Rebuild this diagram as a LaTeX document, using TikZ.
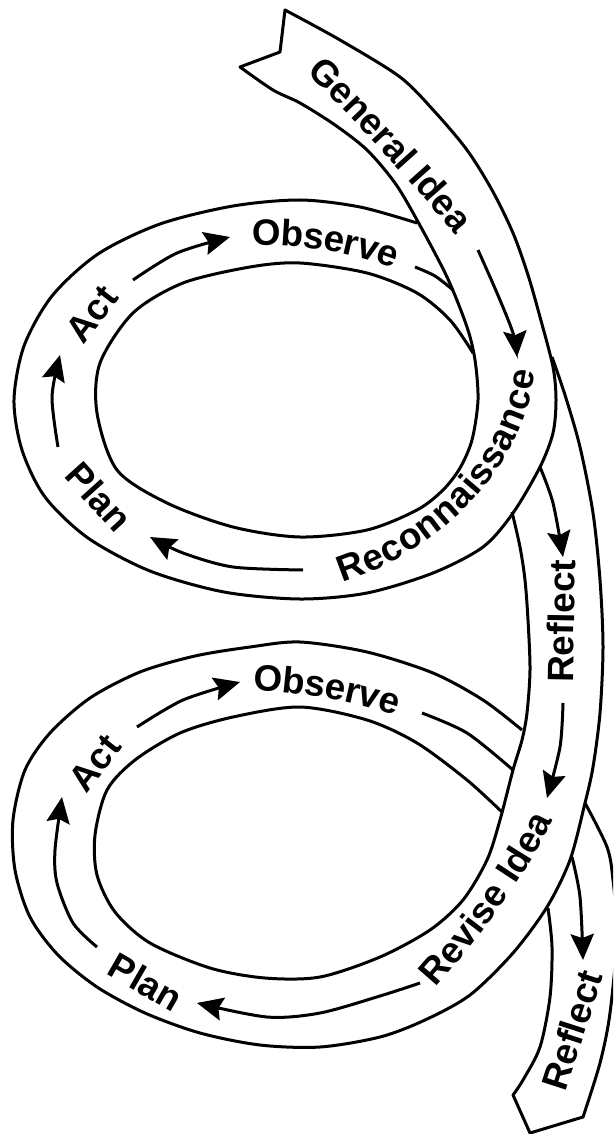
\documentclass[tikz,border=0pt]{standalone}
\usepackage{fontspec}
\setmainfont{Liberation Sans}
\usetikzlibrary{arrows.meta,decorations.text}
\newcommand\lblfont{\fontsize{9.2}{9.2}\selectfont\bfseries}

\begin{document}
\begin{tikzpicture}[x=0.25pt, y=-0.25pt,
	edge/.style={line width=0.75pt, line join=round},
	flow/.style={line width=0.75pt, -{Stealth[length=6.5pt, width=5.8pt, inset=1pt]}},
	lbl/.style={font=\lblfont, inner sep=0pt},
	curvelbl/.style={decorate, decoration={text along path, text align=center, raise=-2.6pt, text={|\lblfont|#1}}}]
	\useasboundingbox (0,0) rectangle (613,1134);
	\clip (0,0) rectangle (613,1134);

	% first turn
	\draw[edge] plot[smooth] coordinates {(417,223) (360,207) (300,200) (233,206) (160,224) (98,254) (52,296) (24,346) (14,400) (22,450) (45,497) (88,538) (150,571) (224,592) (300,599) (367,593) (433,573) (483,547) (513,513) (540,467) (553,433) (556,400) (553,367) (540,317) (528,275) (513,233) (492,190) (467,150) (435,112) (400,77) (340,40) (285,10)}
		-- (280,52) -- plot[smooth] coordinates {(240,67) (273,90) (300,103) (335,125) (367,150) (395,183) (417,220) (447,277) (467,327) (475,360) (478,400) (472,440) (460,468) (443,490) (417,510) (367,530) (300,537) (233,527) (167,503) (117,470) (97,413) (100,363) (133,313) (183,283) (250,267) (300,263) (367,273) (417,293) (450,320) (473,353)};
	\draw[edge] plot[smooth] coordinates {(415,267) (435,276) (453,290)};

	% second turn
	\draw[edge] plot[smooth] coordinates {(552,357) (565,395) (580,447) (593,513) (600,580) (603,647) (600,713) (593,767) (585,803) (570,860) (547,907) (513,953) (470,995) (425,1020) (380,1037) (320,1047) (260,1045) (200,1033) (145,1013) (97,987) (58,955) (30,917) (15,870) (13,820) (25,770) (50,733) (90,698) (140,672) (195,656) (250,647) (300,642) (367,652) (433,673) (483,700) (522,730)};
	\draw[edge] plot[smooth] coordinates {(512,512) (520,547) (525,580) (528,620) (530,670) (527,713) (522,740) (513,770) (500,820) (487,860) (463,900) (430,930) (380,957) (320,977) (265,978) (210,968) (150,943) (115,912) (97,875) (95,835) (107,790) (135,760) (180,733) (233,717) (300,707) (367,720) (417,743) (467,780) (503,813)};
	\draw[edge] plot[smooth] coordinates {(422,713) (467,733) (513,770)};

	% tail
	\draw[edge] plot[smooth] coordinates {(548,908) (552,947) (550,997) (540,1047) (523,1080) (513,1095)}
		-- (530,1133) -- plot[smooth] coordinates {(583,1117) (600,1063) (610,1013) (617,935) (613,880) (607,847) (585,803)};

	\draw[flow] plot[smooth] coordinates {(478,250) (497,293) (513,333) (517,357)};
	\draw[flow] plot[smooth] coordinates {(540,467) (553,503) (563,557)};
	\draw[flow] plot[smooth] coordinates {(303,570) (233,567) (183,553) (150,537)};
	\draw[flow] plot[smooth] coordinates {(58,447) (52,397) (60,355)};
	\draw[flow] plot[smooth] coordinates {(133,280) (177,253) (230,237)};
	\draw[flow] plot[smooth] coordinates {(563,703) (560,747) (547,798)};
	\draw[flow] plot[smooth] coordinates {(420,983) (380,996) (320,1013) (267,1017) (197,1003)};
	\draw[flow] plot[smooth] coordinates {(97,947) (73,923) (57,883) (55,850) (62,797)};
	\draw[flow] plot[smooth] coordinates {(137,727) (183,700) (240,682)};
	\draw[flow] plot[smooth] coordinates {(572,857) (580,897) (583,960)};

	\path[curvelbl=General Idea] (295,47) .. controls (345,94) and (432,188) .. (480,249);
	\path[curvelbl=Observe] (230,238) .. controls (290,230) and (360,240) .. (418,268);
	\path[curvelbl=Reconnaissance] (320,578) .. controls (425,552) and (522,465) .. (527,350);
	\path[curvelbl=Observe] (232,681) .. controls (290,678) and (360,690) .. (420,713);
	\path[curvelbl=Revise Idea] (405,1005) .. controls (460,950) and (535,850) .. (556,785);

	\node[lbl, rotate=52] (act1) at (92,314) {Act};
	\node[lbl, rotate=-48] (plan1) at (99,497) {Plan};
	\node[lbl, rotate=89] (reflect1) at (561,621) {Reflect};
	\node[lbl, rotate=52] (act2) at (95,763) {Act};
	\node[lbl, rotate=-30] (plan2) at (146,982) {Plan};
	\node[lbl, rotate=72] (reflect2) at (572,1030) {Reflect};
\end{tikzpicture}
\end{document}
